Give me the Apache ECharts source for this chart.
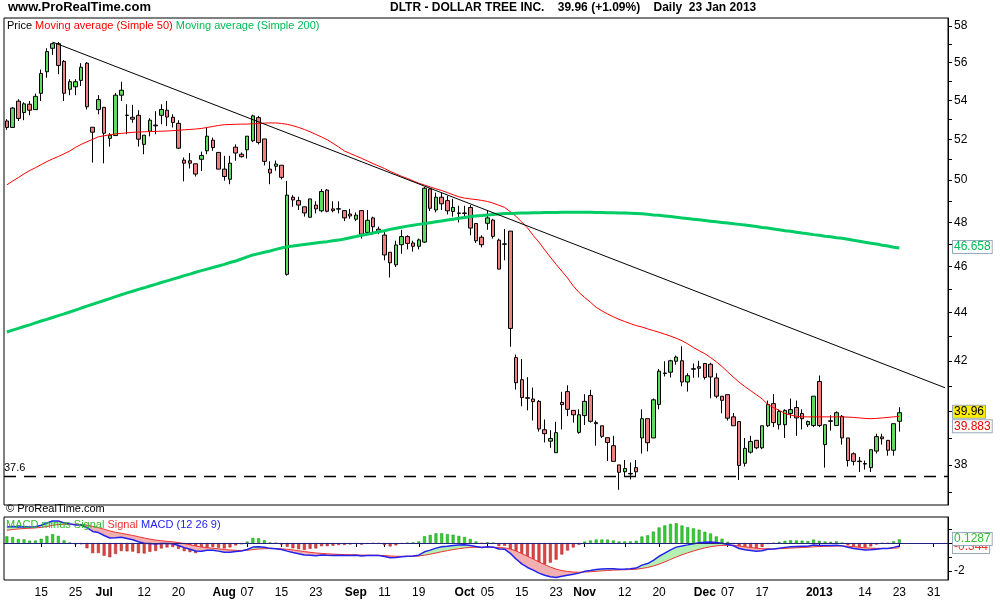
<!DOCTYPE html>
<html><head><meta charset="utf-8">
<script src="https://cdn.jsdelivr.net/npm/echarts@6/dist/echarts.min.js"></script>
<style>html,body{margin:0;padding:0;background:#fff}#c{width:1000px;height:600px}</style>
</head><body><div id="c"></div>
<script>
// ---- data ----
const startDate = '2012-06-07', endDate = '2013-02-04';
const holidays = ['2012-07-04','2012-09-03','2012-10-29','2012-10-30','2012-11-22','2012-12-25','2013-01-01','2013-01-21'];
const tickLabels = {'2012-06-15':'15','2012-06-25':'25','2012-07-02':'Jul','2012-07-12':'12','2012-07-20':'20','2012-08-01':'Aug','2012-08-07':'07','2012-08-15':'15','2012-08-23':'23','2012-09-04':'Sep','2012-09-11':'11','2012-09-19':'19','2012-10-01':'Oct','2012-10-05':'05','2012-10-15':'15','2012-10-23':'23','2012-11-01':'Nov','2012-11-12':'12','2012-11-20':'20','2012-12-03':'Dec','2012-12-07':'07','2012-12-17':'17','2013-01-02':'2013','2013-01-14':'14','2013-01-23':'23','2013-01-31':'31'};
const boldLabels = ['Jul','Aug','Sep','Oct','Nov','Dec','2013'];
const priceTicks = [38,40,42,44,46,48,50,52,54,56,58];
// [open, close, low, high]
const ohlc = [
[52.93,52.60,52.48,53.02],[52.60,53.59,52.58,53.65],[53.95,53.06,52.93,54.05],[53.36,53.81,52.97,53.89],[53.79,53.48,53.22,53.96],
[53.51,54.20,53.51,54.34],[54.36,55.41,53.96,55.62],[55.50,56.59,55.18,56.77],[56.77,57.02,56.41,57.08],[57.02,55.84,55.37,57.12],
[56.06,54.36,53.96,56.13],[54.57,54.97,54.26,55.10],[54.70,54.97,54.26,55.10],[55.04,55.74,54.74,55.96],[55.96,53.66,53.52,56.02],
[52.61,52.36,50.85,52.61],[53.51,54.03,53.27,54.26],[53.63,52.31,50.81,53.63],[52.05,52.21,51.64,52.31],[52.19,54.26,52.19,54.38],
[54.26,54.52,53.96,54.97],[53.23,53.21,52.26,53.79],[53.12,53.02,52.84,53.76],[53.22,52.01,51.64,53.48],[51.75,52.21,51.26,52.21],
[52.41,52.97,52.15,53.07],[52.72,52.68,52.26,53.43],[53.22,53.52,52.76,53.79],[53.48,53.13,52.67,53.96],[53.12,52.85,52.60,53.27],
[52.81,51.56,51.51,52.97],[50.97,50.82,49.94,51.10],[50.94,50.82,50.56,51.32],[50.79,50.29,50.17,50.79],[51.01,51.20,50.44,51.39],
[51.43,52.16,51.26,52.60],[51.96,51.59,51.43,52.09],[51.35,50.53,50.53,51.35],[50.53,50.17,49.97,51.18],[50.04,50.82,49.80,51.18],
[51.61,51.32,50.94,51.75],[51.26,51.14,51.10,51.35],[51.48,52.16,51.05,52.16],[51.93,53.19,51.86,53.25],[53.10,51.84,51.75,53.19],
[52.02,50.91,50.71,52.02],[50.53,50.34,49.80,50.91],[50.67,50.78,50.45,50.95],[50.72,50.13,50.03,50.72],[45.66,49.28,45.60,49.96],
[49.18,49.05,48.73,49.28],[49.02,48.81,48.58,49.20],[48.73,48.44,48.27,48.73],[48.24,49.10,48.24,49.10],[48.81,48.63,48.42,48.99],
[48.54,49.45,48.47,49.57],[49.52,48.52,48.47,49.57],[48.63,48.55,48.47,48.99],[48.64,48.62,48.42,48.99],[48.55,48.21,48.06,48.58],
[48.39,48.30,48.17,48.63],[48.15,48.34,48.06,48.47],[48.55,47.46,47.26,48.55],[47.54,48.10,47.46,48.58],[48.21,47.80,47.46,48.27],
[47.69,47.54,47.46,47.81],[47.42,46.52,46.28,47.56],[46.64,46.17,45.52,46.64],[46.08,46.97,45.98,47.16],[46.98,47.35,46.57,47.66],
[47.35,47.04,46.77,47.41],[47.06,46.91,46.67,47.16],[46.91,47.20,46.77,47.26],[47.10,49.61,47.06,49.67],[49.57,48.66,48.53,49.61],
[48.58,49.18,48.47,49.40],[49.18,48.87,48.58,49.40],[49.02,48.54,48.37,49.25],[48.51,48.70,48.27,49.10],[48.44,48.42,48.00,48.78],
[48.44,48.42,48.20,48.78],[48.70,47.74,47.41,48.81],[47.95,47.16,47.06,47.95],[47.32,46.98,46.86,47.41],[47.96,48.21,47.66,48.58],
[48.11,47.36,47.26,48.17],[47.19,45.89,45.88,47.26],[47.02,47.00,46.28,47.70],[47.60,43.34,42.58,47.60],[42.14,41.13,40.86,42.26],
[41.25,40.55,40.21,42.08],[40.54,40.52,40.05,41.35],[40.49,40.39,39.66,40.94],[40.40,39.34,39.24,40.45],[39.31,39.16,38.83,39.70],
[38.88,38.98,38.63,39.29],[38.45,39.20,38.45,39.61],[40.36,40.27,39.32,40.77],[40.78,40.09,39.83,41.03],[40.05,39.88,39.58,40.05],
[39.21,39.88,39.16,40.09],[39.85,40.40,39.49,40.68],[40.63,39.63,39.58,40.85],[39.58,39.54,38.71,39.66],[39.46,39.06,39.00,39.46],
[39.01,38.83,38.14,39.01],[38.71,38.13,38.13,39.08],[38.00,37.73,37.10,38.00],[37.75,37.87,37.56,38.18],[37.69,37.67,37.47,38.09],
[37.90,37.75,37.56,38.18],[39.00,39.73,38.42,40.09],[39.73,38.82,38.50,39.73],[39.00,40.46,39.00,40.51],[40.28,41.59,40.09,41.68],
[41.52,41.50,41.38,41.99],[41.55,42.01,41.34,42.05],[41.99,42.16,41.85,42.22],[42.01,41.16,40.99,42.60],[41.16,41.41,40.78,41.51],
[41.69,41.67,41.33,41.90],[41.77,41.71,41.34,42.01],[41.90,41.34,41.26,41.90],[41.87,41.36,40.52,41.93],[41.32,40.60,40.52,41.51],
[40.60,40.44,39.94,40.60],[40.66,39.75,39.66,40.66],[39.80,39.46,39.46,39.95],[39.62,37.98,37.45,39.62],[38.06,38.61,37.94,39.00],
[38.47,38.87,38.42,39.08],[38.91,38.63,38.58,38.91],[38.63,39.46,38.58,39.46],[39.46,40.28,39.41,40.43],[40.31,39.58,39.41,40.68],
[39.50,40.01,39.32,40.09],[39.50,40.05,39.00,40.09],[39.93,40.08,39.75,40.51],[40.16,39.76,39.08,40.43],[39.93,39.73,39.32,40.09],
[39.50,39.62,39.41,39.66],[39.47,40.60,39.41,40.60],[41.18,39.47,39.41,41.42],[38.75,39.50,37.90,39.50],[39.65,39.63,39.28,39.86],
[39.47,39.96,39.47,40.01],[39.82,39.00,38.75,39.87],[39.00,38.16,37.94,39.00],[38.41,38.13,37.98,38.46],[38.14,38.12,37.74,38.29],
[38.05,38.03,37.83,38.16],[37.90,38.56,37.74,38.58],[38.51,39.05,38.42,39.16],[39.04,38.97,38.75,39.16],[38.91,38.54,38.34,38.91],
[38.54,39.54,38.34,39.54],[39.63,39.96,39.24,40.17]
];
const ma50 = [49.77,49.95,50.12,50.3,50.46,50.6,50.75,50.9,51.03,51.15,51.28,51.42,51.6,51.75,51.88,52.0,52.13,52.18,52.23,52.27,52.3,52.33,52.35,52.37,52.38,52.39,52.4,52.41,52.42,52.44,52.46,52.48,52.5,52.52,52.55,52.6,52.65,52.7,52.74,52.75,52.76,52.77,52.77,52.79,52.8,52.82,52.83,52.83,52.8,52.76,52.69,52.6,52.5,52.38,52.25,52.12,51.98,51.8,51.62,51.42,51.3,51.18,51.06,50.93,50.8,50.68,50.56,50.42,50.3,50.18,50.08,49.96,49.85,49.76,49.67,49.58,49.5,49.4,49.3,49.2,49.14,49.1,49.07,49.03,48.98,48.9,48.8,48.7,48.5,48.28,48.02,47.75,47.4,47.1,46.75,46.42,46.1,45.8,45.5,45.15,44.87,44.65,44.45,44.23,44.08,43.95,43.83,43.72,43.63,43.54,43.46,43.4,43.32,43.25,43.18,43.1,43.02,42.93,42.83,42.7,42.55,42.42,42.3,42.14,41.97,41.78,41.56,41.35,41.15,40.98,40.82,40.66,40.5,40.28,40.16,40.05,39.93,39.87,39.82,39.8,39.8,39.8,39.8,39.8,39.8,39.8,39.8,39.79,39.78,39.76,39.74,39.73,39.74,39.76,39.78,39.8,39.82];
const ma200 = [43.19,43.27,43.34,43.42,43.49,43.57,43.65,43.72,43.8,43.88,43.95,44.03,44.11,44.2,44.28,44.36,44.44,44.52,44.6,44.69,44.77,44.85,44.92,45.0,45.07,45.15,45.22,45.3,45.37,45.45,45.52,45.6,45.67,45.75,45.82,45.89,45.96,46.03,46.1,46.18,46.25,46.34,46.43,46.52,46.58,46.64,46.7,46.77,46.83,46.89,46.92,46.96,46.99,47.02,47.06,47.09,47.12,47.16,47.19,47.24,47.3,47.35,47.41,47.46,47.51,47.57,47.62,47.68,47.73,47.78,47.83,47.87,47.91,47.95,47.99,48.03,48.07,48.11,48.15,48.19,48.23,48.27,48.3,48.32,48.35,48.37,48.39,48.41,48.42,48.43,48.44,48.44,48.45,48.45,48.46,48.46,48.46,48.47,48.47,48.47,48.47,48.47,48.47,48.46,48.46,48.45,48.45,48.44,48.44,48.43,48.42,48.4,48.38,48.35,48.33,48.3,48.27,48.24,48.21,48.18,48.15,48.12,48.09,48.06,48.03,48.0,47.97,47.94,47.91,47.88,47.85,47.81,47.77,47.74,47.7,47.66,47.62,47.59,47.55,47.51,47.48,47.44,47.41,47.37,47.34,47.3,47.27,47.23,47.18,47.14,47.09,47.05,47.01,46.96,46.92,46.87,46.83];
const trendStart = [8, 57.11], trendEnd = [164, 40.93];
const supportLevel = 37.6;
const lastPriceText = '39.96', ma50Text = '39.883', ma200Text = '46.658';
const macdText = '0.1287', signalText = '-0.344';
const macdSeed = {ema12: 52.1, ema26: 50.9, signal: 0.85};
// ---- build ----
const dates = [];
(function(){ let d = new Date(startDate+'T12:00:00Z'); const e = new Date(endDate+'T12:00:00Z');
  while (d <= e) { const s = d.toISOString().slice(0,10); const w = d.getUTCDay();
    if (w !== 0 && w !== 6 && holidays.indexOf(s) < 0) dates.push(s);
    d = new Date(d.getTime() + 86400000); } })();
const closes = ohlc.map(r => r[1]);
let e12 = macdSeed.ema12, e26 = macdSeed.ema26, sig = macdSeed.signal;
const macd = [], signal = [], hist = [], base = [], gpart = [], rpart = [];
closes.forEach(c => { e12 += (c - e12) * 2/13; e26 += (c - e26) * 2/27; const m = e12 - e26; sig += (m - sig) * 0.2;
  macd.push(+m.toFixed(4)); signal.push(+sig.toFixed(4)); hist.push(+(m - sig).toFixed(4));
  base.push(Math.min(m, sig)); gpart.push(Math.max(m - sig, 0)); rpart.push(Math.max(sig - m, 0)); });

const font = 'Liberation Sans, Arial, sans-serif';
const labelInt = (i, v) => tickLabels[v] !== undefined;
const chart = echarts.init(document.getElementById('c'), null, {renderer:'canvas'});
const option = {
  animation: false, backgroundColor: '#fff',
  textStyle: {fontFamily: font},
  grid: [
    {left: 4, right: 52, top: 18, height: 487, show: true, borderColor: '#000', borderWidth: 1, backgroundColor: '#fff'},
    {left: 4, right: 52, top: 517, height: 63, show: true, borderColor: '#000', borderWidth: 1, backgroundColor: '#fff'}
  ],
  xAxis: [
    {type: 'category', data: dates, gridIndex: 0, boundaryGap: true, axisLine: {show: false}, axisTick: {show: false}, axisLabel: {show: false}, splitLine: {show: false}},
    {type: 'category', data: dates, gridIndex: 1, boundaryGap: true, axisLine: {lineStyle: {color: '#000'}},
     axisTick: {show: true, alignWithLabel: true, interval: labelInt, length: 4, lineStyle: {color: '#000'}},
     axisLabel: {interval: labelInt, margin: 7, color: '#000', fontSize: 12, fontFamily: font,
       formatter: v => { const t = tickLabels[v] || ''; return boldLabels.indexOf(t) >= 0 ? '{b|' + t + '}' : t; },
       rich: {b: {fontWeight: 'bold', fontSize: 12, fontFamily: font, color: '#000'}}}}
  ],
  yAxis: [
    {type: 'log', logBase: 10, gridIndex: 0, position: 'right', min: 36.56, max: 58.45, scale: true,
     axisLine: {show: true, lineStyle: {color: '#000'}}, splitLine: {show: false},
     axisTick: {show: true, length: 4, customValues: [37,38,39,40,41,42,43,44,45,46,47,48,49,50,51,52,53,54,55,56,57,58], lineStyle: {color: '#000'}},
     axisLabel: {customValues: priceTicks, color: '#000', fontSize: 12, margin: 6, fontFamily: font}},
    {type: 'value', gridIndex: 1, position: 'right', min: -2.643, max: 1.857,
     axisLine: {show: true, lineStyle: {color: '#000'}}, splitLine: {show: false},
     axisTick: {show: true, length: 4, customValues: [-2, -1, 0, 1], lineStyle: {color: '#000'}},
     axisLabel: {customValues: [-2], color: '#000', fontSize: 12, margin: 6, fontFamily: font}},
    {type: 'value', gridIndex: 1, min: -1.32, max: 0.93, show: false}
  ],
  series: [
    {type: 'candlestick', name: 'Price', xAxisIndex: 0, yAxisIndex: 0, data: ohlc, barWidth: 4,
     itemStyle: {color: '#5fdc5f', color0: '#f08080', borderColor: '#000', borderColor0: '#000', borderWidth: 1},
     markLine: {silent: true, symbol: 'none', animation: false, data: [
       [{coord: trendStart, lineStyle: {color: '#000', width: 1, type: 'solid'}, label: {show: false}}, {coord: trendEnd}],
       {yAxis: supportLevel, lineStyle: {color: '#000', width: 1.3, type: [12, 8]}, label: {show: true, position: 'insideStartTop', formatter: String(supportLevel), color: '#000', fontSize: 11, distance: [0, 2]}}
     ]}},
    {type: 'line', name: 'Moving average (Simple 50)', data: ma50, xAxisIndex: 0, yAxisIndex: 0, symbol: 'none', lineStyle: {color: '#ff0000', width: 1}, z: 3},
    {type: 'line', name: 'Moving average (Simple 200)', data: ma200, xAxisIndex: 0, yAxisIndex: 0, symbol: 'none', lineStyle: {color: '#00cc66', width: 3}, z: 3},
    {type: 'bar', name: 'MACD minus Signal', data: hist.map(v => ({value: v, itemStyle: {color: v >= 0 ? '#33cc33' : '#dd4444', borderColor: v >= 0 ? '#119911' : '#aa2222', borderWidth: 0.5}})), xAxisIndex: 1, yAxisIndex: 2, barWidth: 3, z: 1},
    {type: 'line', data: base, xAxisIndex: 1, yAxisIndex: 1, stack: 'f', stackStrategy: 'all', symbol: 'none', lineStyle: {width: 0}, areaStyle: {opacity: 0}, z: 2},
    {type: 'line', data: gpart, xAxisIndex: 1, yAxisIndex: 1, stack: 'f', stackStrategy: 'all', symbol: 'none', lineStyle: {width: 0}, areaStyle: {color: '#b4f0b4', opacity: 1}, z: 2},
    {type: 'line', data: rpart, xAxisIndex: 1, yAxisIndex: 1, stack: 'f', stackStrategy: 'all', symbol: 'none', lineStyle: {width: 0}, areaStyle: {color: '#f2b0b0', opacity: 1}, z: 2},
    {type: 'line', name: 'Signal', data: signal, xAxisIndex: 1, yAxisIndex: 1, symbol: 'none', lineStyle: {color: '#ee3333', width: 1}, z: 3},
    {type: 'line', name: 'MACD', data: macd, xAxisIndex: 1, yAxisIndex: 1, symbol: 'none', lineStyle: {color: '#2222ee', width: 1.5}, z: 4,
     markLine: {silent: true, symbol: 'none', data: [{yAxis: 0, lineStyle: {color: '#202080', width: 1, type: 'solid'}, label: {show: false}}]}}
  ]
};
chart.setOption(option);
const last = ohlc.length - 1;
const yP = v => chart.convertToPixel({yAxisIndex: 0}, v);
const yM = v => chart.convertToPixel({yAxisIndex: 1}, v);
const gx = 953;
chart.setOption({graphic: [
  {type: 'text', left: 8, top: 1, style: {text: 'www.ProRealTime.com', font: 'bold 13px ' + font, fill: '#000'}},
  {type: 'text', left: 390, top: 2, style: {text: 'DLTR - DOLLAR TREE INC.    39.96 (+1.09%)    Daily  23 Jan 2013', font: 'bold 12px ' + font, fill: '#000'}},
  {type: 'text', left: 7, top: 20, style: {rich: {a: {fill: '#000', font: '11px ' + font}, r: {fill: '#ff0000', font: '11px ' + font}, g: {fill: '#00bb55', font: '11px ' + font}},
    text: '{a|Price }{r|Moving average (Simple 50) }{g|Moving average (Simple 200)}'}},
  {type: 'text', left: 6, top: 503, style: {text: '© ProRealTime.com', font: '11px ' + font, fill: '#000'}, z: 10},
  {type: 'text', left: 6, top: 519, style: {rich: {g: {fill: '#33bb33', font: '11px ' + font}, r: {fill: '#ee3333', font: '11px ' + font}, b: {fill: '#2222ee', font: '11px ' + font}},
    text: '{g|MACD minus Signal }{r|Signal }{b|MACD (12 26 9)}'}, z: 10},
  {type: 'text', x: gx, y: yP(ma50[last]) + 4, style: {text: ma50Text, font: '12px ' + font, fill: '#ee0000', backgroundColor: '#fff', borderColor: '#99aabb', borderWidth: 1, padding: [0, 1]}, z: 20},
  {type: 'text', x: gx, y: yP(closes[last]) - 7, style: {text: lastPriceText, font: '12px ' + font, fill: '#000', backgroundColor: '#ffee00', borderColor: '#99aabb', borderWidth: 1, padding: [0, 1]}, z: 21},
  {type: 'text', x: gx, y: yP(ma200[last]) - 7, style: {text: ma200Text, font: '12px ' + font, fill: '#00bb55', backgroundColor: '#fff', borderColor: '#99aabb', borderWidth: 1, padding: [0, 1]}, z: 20},
  {type: 'text', x: gx, y: yM(0) - 2, style: {text: signalText, font: '12px ' + font, fill: '#ee3333', backgroundColor: '#fff', borderColor: '#99aabb', borderWidth: 1, padding: [0, 1]}, z: 20},
  {type: 'text', x: gx, y: yM(0) - 10, style: {text: macdText, font: '12px ' + font, fill: '#33bb33', backgroundColor: '#fff', borderColor: '#99aabb', borderWidth: 1, padding: [0, 1]}, z: 21}
]});
</script></body></html>
